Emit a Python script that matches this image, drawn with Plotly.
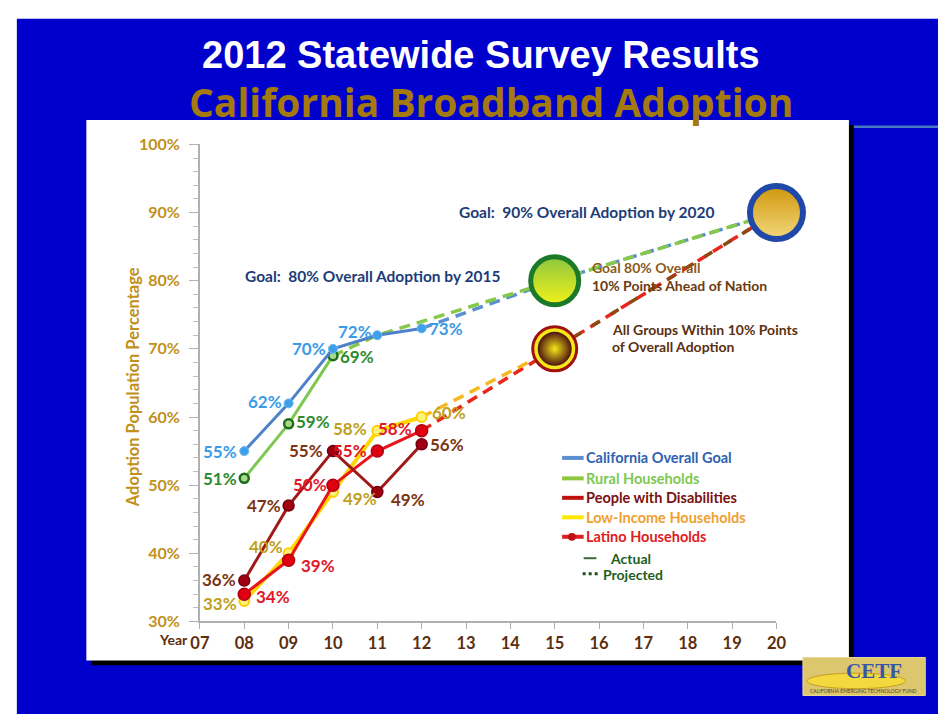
import plotly.graph_objects as go

# ---------------- data ----------------
years = [8, 9, 10, 11, 12]
rural_years = [8, 9, 10]
year_ticks = list(range(7, 21))
year_labels = [f"{y:02d}" for y in year_ticks]
y_ticks = list(range(30, 101, 10))
y_labels = [f"{v}%" for v in y_ticks]

overall = [55, 62, 70, 72, 73]
rural = [51, 59, 69]
disab = [36, 47, 55, 49, 56]
lowinc = [33, 40, 49, 58, 60]
latino = [34, 39, 50, 55, 58]

proj_overall_x = [12, 15, 20]
proj_overall = [73, 80, 90]
proj_rural_x = [10, 11, 15, 20]
proj_rural = [69, 72, 80, 90]
proj_latino_x = [12, 15, 20]
proj_latino = [58, 70, 90]
proj_lowinc_x = [12, 15]
proj_lowinc = [60, 70]
proj_disab_x = [15, 20]
proj_disab = [70, 90]

series_names = ["California Overall Goal", "Rural Households", "People with Disabilities",
                "Low-Income Households", "Latino Households"]

W, H = 948, 723


def px(x):
    return x / W


def py(y):
    return 1 - y / H


FONT = "Lato, 'Open Sans', 'DejaVu Sans', sans-serif"

fig = go.Figure()

# ---------------- projected (dashed) ----------------
def dashed(x, y, color, dash="11px,7px", width=3.5):
    fig.add_trace(go.Scatter(x=x, y=y, mode="lines", line=dict(color=color, width=width, dash=dash),
                             showlegend=False, hoverinfo="skip", cliponaxis=False))

dashed(proj_overall_x, proj_overall, "#5b8fd0")
dashed(proj_rural_x, proj_rural, "#86c94a")
dashed(proj_latino_x, proj_latino, "#e8261c")
dashed(proj_lowinc_x, proj_lowinc, "#f5b820")
dashed(proj_disab_x, proj_disab, "#8a4a16", dash="9px,13px")

# ---------------- actual ----------------
fig.add_trace(go.Scatter(x=rural_years, y=rural, mode="lines+markers", name=series_names[1],
                         line=dict(color="#7ec850", width=3),
                         marker=dict(size=9, color="#a8d88a", line=dict(color="#1e6b1e", width=2.5)),
                         showlegend=False))
fig.add_trace(go.Scatter(x=years, y=overall, mode="lines+markers", name=series_names[0],
                         line=dict(color="#4f81c8", width=3),
                         marker=dict(size=9, color="#3ea0e8", line=dict(color="#6ab8f0", width=1)),
                         showlegend=False))
fig.add_trace(go.Scatter(x=years, y=lowinc, mode="lines+markers", name=series_names[3],
                         line=dict(color="#ffd700", width=4),
                         marker=dict(size=10, color="#fff27a", line=dict(color="#ffd000", width=2)),
                         showlegend=False))
fig.add_trace(go.Scatter(x=years, y=latino, mode="lines+markers", name=series_names[4],
                         line=dict(color="#e8161c", width=3),
                         marker=dict(size=12, color="#e00010", line=dict(color="#b00010", width=1.5)),
                         showlegend=False))
fig.add_trace(go.Scatter(x=years, y=disab, mode="lines+markers", name=series_names[2],
                         line=dict(color="#a01818", width=3),
                         marker=dict(size=11, color="#a00010", line=dict(color="#700010", width=1.5)),
                         showlegend=False))

# ---------------- goal circles ----------------
fig.add_trace(go.Scatter(x=[20], y=[90], mode="markers", cliponaxis=False, showlegend=False, hoverinfo="skip",
                         marker=dict(size=53, color="#cf960c", gradient=dict(type="vertical", color="#f3d87c"),
                                     line=dict(color="#1f48a8", width=6))))
fig.add_trace(go.Scatter(x=[15], y=[80], mode="markers", cliponaxis=False, showlegend=False, hoverinfo="skip",
                         marker=dict(size=48, color="#8cc63f", gradient=dict(type="vertical", color="#f2f21a"),
                                     line=dict(color="#1a7a2a", width=5))))
fig.add_trace(go.Scatter(x=[15], y=[70], mode="markers", cliponaxis=False, showlegend=False, hoverinfo="skip",
                         marker=dict(size=44, color="#f4e818", line=dict(color="#a01010", width=3))))
fig.add_trace(go.Scatter(x=[15], y=[70], mode="markers", cliponaxis=False, showlegend=False, hoverinfo="skip",
                         marker=dict(size=34, color="#4e1210", gradient=dict(type="radial", color="#f4e818"),
                                     line=dict(width=0))))

# ---------------- data labels ----------------
annotations = []


def labels(xs, ys, color, places):
    for x, y, (anchor, dx, dy) in zip(xs, ys, places):
        annotations.append(dict(x=x, y=y, xref="x", yref="y", text=f"<b>{y}%</b>", showarrow=False,
                                xanchor=anchor, yanchor="middle", xshift=dx, yshift=dy,
                                font=dict(family=FONT, size=17, color=color)))


labels(years, overall, "#3a9be8", [("right", -5, 0), ("right", -5, 2), ("right", -5, 0),
                                    ("right", -3, 4), ("left", 5, 0)])
labels(rural_years, rural, "#2e8b2e", [("right", -5, 0), ("left", 5, 2), ("left", 5, -1)])
labels(years, disab, "#7b3410", [("right", -6, 1), ("right", -6, 0), ("right", -8, 1),
                                  ("left", 12, -8), ("left", 6, 0)])
labels(years, lowinc, "#c0a020", [("right", -5, -2), ("right", -4, 7), ("left", 8, -7),
                                   ("right", -8, 2), ("left", 8, 5)])
labels(years, latino, "#e01828", [("left", 10, -2), ("left", 10, -5), ("right", -4, 1),
                                   ("right", -8, 1), ("right", -8, 2)])

# ---------------- text annotations ----------------
def ptext(x, y, text, size, color, anchor="left", family=FONT, **kw):
    annotations.append(dict(x=px(x), y=py(y), xref="paper", yref="paper", text=text, showarrow=False,
                            xanchor=anchor, yanchor="middle", font=dict(family=family, size=size, color=color), **kw))


ptext(481, 46, "<b>2012 Statewide Survey Results</b>", 38, "#ffffff", anchor="center",
      family="'Liberation Sans', Arial, sans-serif")
ptext(491, 94, "<b>California Broadband Adoption</b>", 39, "#a47a0e", anchor="center",
      family="'Open Sans', sans-serif")

ptext(457, 207, "<b>Goal:  90% Overall Adoption by 2020</b>", 15.5, "#1c3c78")
ptext(238, 273, "<b>Goal:  80% Overall Adoption by 2015</b>", 15.5, "#1c3c78")
ptext(593, 264, "<b>Goal 80% Overall</b>", 14, "#8b5a1a")
ptext(593, 283, "<b>10% Points Ahead of Nation</b>", 14, "#6b3a12")
ptext(613, 328, "<b>All Groups Within 10% Points</b>", 14, "#5a3010")
ptext(613, 346, "<b>of Overall Adoption</b>", 14, "#5a3010")

ptext(125, 387, "<b>Adoption Population Percentage</b>", 16.5, "#c0901a", anchor="center", textangle=-90)
ptext(167, 647, "<b>Year</b>", 14, "#5c2e0e", anchor="center")

# legend
leg_text_colors = ["#2e62b0", "#7ec850", "#7a1010", "#f0a030", "#e02020"]
leg_line_colors = ["#5b8fd0", "#8dc63f", "#c01010", "#ffe800", "#e02020"]
leg_y = [460, 481, 501, 521, 541]
shapes = []
for name, tc, lc, yy in zip(series_names, leg_text_colors, leg_line_colors, leg_y):
    ptext(586, yy, f"<b>{name}</b>", 14.5, tc)
    shapes.append(dict(type="line", xref="paper", yref="paper", x0=px(564), x1=px(586), y0=py(yy), y1=py(yy),
                       line=dict(color=lc, width=4)))
shapes.append(dict(type="circle", xref="paper", yref="paper", x0=px(570), x1=px(578), y0=py(545), y1=py(537),
                   fillcolor="#c01010", line=dict(width=0)))
shapes.append(dict(type="line", xref="paper", yref="paper", x0=px(586), x1=px(599), y0=py(563), y1=py(563),
                   line=dict(color="#3a6a3a", width=2)))
shapes.append(dict(type="line", xref="paper", yref="paper", x0=px(585), x1=px(601), y0=py(579), y1=py(579),
                   line=dict(color="#1e4e1e", width=3, dash="3px,3px")))
ptext(611, 563, "<b>Actual</b>", 14, "#1e5e1e")
ptext(604, 580, "<b>Projected</b>", 14, "#1e5e1e")

# logo
ptext(883, 679, "<b>CETF</b>", 21, "#3556a8", anchor="center", family="'Liberation Serif', 'DejaVu Serif', serif")
ptext(872, 699, "CALIFORNIA EMERGING TECHNOLOGY FUND", 5, "#4a4020", anchor="center")

# ---------------- background shapes ----------------
bg = [
    dict(type="rect", xref="paper", yref="paper", x0=px(7), x1=1, y0=0, y1=py(9),
         fillcolor="#0000cc", line=dict(width=0), layer="below"),
    dict(type="line", xref="paper", yref="paper", x0=px(857), x1=1, y0=py(120), y1=py(120),
         line=dict(color="#4a78c0", width=2.5), layer="below"),
    dict(type="rect", xref="paper", yref="paper", x0=px(83), x1=px(862), y0=py(673), y1=py(118),
         fillcolor="#000000", line=dict(width=0), layer="below"),
    dict(type="rect", xref="paper", yref="paper", x0=px(78), x1=px(857), y0=py(668), y1=py(113),
         fillcolor="#ffffff", line=dict(width=0), layer="below"),
    dict(type="rect", xref="paper", yref="paper", x0=px(810), x1=px(935), y0=py(704), y1=py(665),
         fillcolor="#dcc66e", line=dict(color="#e8d890", width=1), layer="below"),
    dict(type="circle", xref="paper", yref="paper", x0=px(814), x1=px(915), y0=py(697), y1=py(681),
         fillcolor="#f3d93e", line=dict(color="#c8a020", width=1), layer="below"),
]

fig.update_layout(
    width=W, height=H, autosize=False,
    margin=dict(l=0, r=0, t=0, b=0),
    paper_bgcolor="#ffffff", plot_bgcolor="rgba(0,0,0,0)",
    showlegend=False,
    shapes=bg + shapes,
    annotations=annotations,
    xaxis=dict(domain=[px(194), px(783)], range=[7, 20], tickmode="array", tickvals=year_ticks,
               ticktext=[f"<b>{t}</b>" for t in year_labels], showgrid=False, zeroline=False,
               showline=True, linecolor="#b0b0b0", linewidth=1.5, ticks="outside", ticklen=6,
               tickcolor="#b0b0b0", tickfont=dict(family=FONT, size=16.5, color="#5c2e0e")),
    yaxis=dict(domain=[py(628), py(138)], range=[30, 100], tickmode="array", tickvals=y_ticks,
               ticktext=[f"<b>{t}</b>" for t in y_labels], showgrid=False, zeroline=False,
               showline=True, linecolor="#b0b0b0", linewidth=1.5, ticks="outside", ticklen=9,
               ticklabelstandoff=6,
               tickcolor="#b0b0b0", tickfont=dict(family=FONT, size=16, color="#c0901a"),
               minor=dict(dtick=2, ticks="outside", ticklen=5, tickcolor="#c0c0c0", showgrid=False)),
)

fig.write_html("out.html")
